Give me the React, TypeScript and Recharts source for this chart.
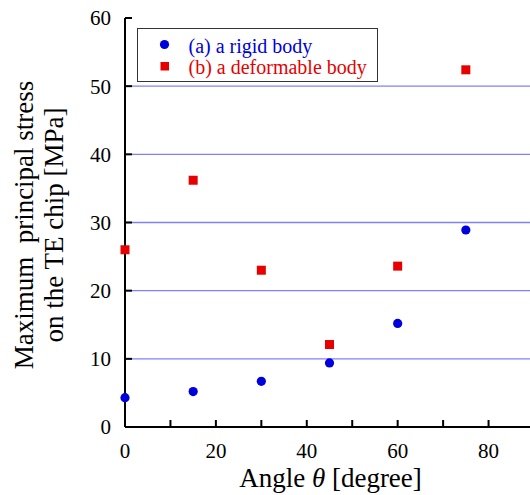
import { CartesianGrid, Scatter, ScatterChart, XAxis, YAxis } from "recharts";

const angles = [0, 15, 30, 45, 60, 75];
const rigidBody = [4.3, 5.2, 6.7, 9.4, 15.2, 28.9];
const deformableBody = [26.0, 36.2, 23.0, 12.1, 23.6, 52.4];
const angleTicks = [0, 10, 20, 30, 40, 50, 60, 70, 80, 90];
const stressTicks = [0, 10, 20, 30, 40, 50, 60];
const gridValues = [10, 20, 30, 40, 50];

const FONT = "'Liberation Serif', 'Times New Roman', serif";
const BLUE = "#0000dd";
const RED = "#e60000";

const rigidData = angles.map((a, i) => ({ angle: a, stress: rigidBody[i] }));
const deformData = angles.map((a, i) => ({ angle: a, stress: deformableBody[i] }));

const Dot = (p: any) => <circle cx={p.cx} cy={p.cy} r={4.6} fill={BLUE} />;
const Square = (p: any) => (
  <rect x={p.cx - 4.5} y={p.cy - 4.5} width={9} height={9} fill={RED} />
);

const XLabel = ({ viewBox }: any) => (
  <text
    x={viewBox.x + viewBox.width / 2 + 1}
    y={487}
    textAnchor="middle"
    fontSize={27}
    fill="#000"
  >
    Angle <tspan fontStyle="italic">θ</tspan> [degree]
  </text>
);

const YLabel = () => (
  <g fontSize={27} fill="#000">
    <text
      x={33}
      y={225}
      textAnchor="middle"
      transform="rotate(-90, 33, 225)"
      style={{ whiteSpace: "pre" }}
    >
      {"Maximum  principal stress"}
    </text>
    <text x={63} y={225} textAnchor="middle" transform="rotate(-90, 63, 225)">
      on the TE chip [MPa]
    </text>
  </g>
);

const tickStyle = { fill: "#000", fontSize: 21 };
const axisStroke = { stroke: "#000", strokeWidth: 2 };

export default function App() {
  return (
    <div
      className="fig"
      style={{
        position: "fixed",
        left: 0,
        top: 0,
        width: 530,
        height: 495,
        overflow: "hidden",
        background: "#fff",
      }}
    >
      <style>{`.fig, .fig text, .fig tspan { font-family: ${FONT}; }`}</style>
      <ScatterChart
        width={548}
        height={495}
        margin={{ top: 18, right: 14, bottom: 0, left: 0 }}
      >
        <CartesianGrid
          vertical={false}
          horizontalValues={gridValues}
          stroke="#8080ff"
          strokeWidth={1.3}
        />
        <XAxis
          type="number"
          dataKey="angle"
          domain={[0, 90]}
          ticks={angleTicks}
          interval={0}
          height={68}
          tickSize={-7}
          tickMargin={23}
          tick={tickStyle}
          tickFormatter={(v: number) => (v % 20 === 0 ? String(v) : "")}
          axisLine={axisStroke}
          tickLine={axisStroke}
          label={<XLabel />}
        />
        <XAxis
          xAxisId="t"
          orientation="top"
          type="number"
          dataKey="angle"
          domain={[0, 90]}
          ticks={angleTicks}
          interval={0}
          height={0}
          tickSize={-7}
          tickFormatter={() => ""}
          axisLine={axisStroke}
          tickLine={axisStroke}
        />
        <YAxis
          type="number"
          dataKey="stress"
          domain={[0, 60]}
          ticks={stressTicks}
          interval={0}
          width={125}
          tickSize={-7}
          tickMargin={21}
          tick={tickStyle}
          axisLine={axisStroke}
          tickLine={axisStroke}
          label={<YLabel />}
        />
        <YAxis
          yAxisId="r"
          orientation="right"
          type="number"
          dataKey="stress"
          domain={[0, 60]}
          ticks={stressTicks}
          interval={0}
          width={0}
          tickSize={-7}
          tickFormatter={() => ""}
          axisLine={axisStroke}
          tickLine={axisStroke}
        />
        <Scatter data={rigidData} shape={Dot} isAnimationActive={false} />
        <Scatter data={deformData} shape={Square} isAnimationActive={false} />
      </ScatterChart>
      <div
        style={{
          position: "absolute",
          left: 137,
          top: 28,
          width: 239,
          height: 52,
          border: "1.5px solid #333",
          background: "#fff",
        }}
      >
        <svg width={239} height={52} style={{ position: "absolute", left: 0, top: 0 }}>
          <circle cx={26.5} cy={15.5} r={4.6} fill={BLUE} />
          <rect x={22.5} y={33} width={8.5} height={8.5} fill={RED} />
          <text x={50.5} y={23.5} fontSize={20} fill={BLUE}>
            (a) a rigid body
          </text>
          <text x={50.5} y={44.5} fontSize={20} fill={RED}>
            (b) a deformable body
          </text>
        </svg>
      </div>
    </div>
  );
}
